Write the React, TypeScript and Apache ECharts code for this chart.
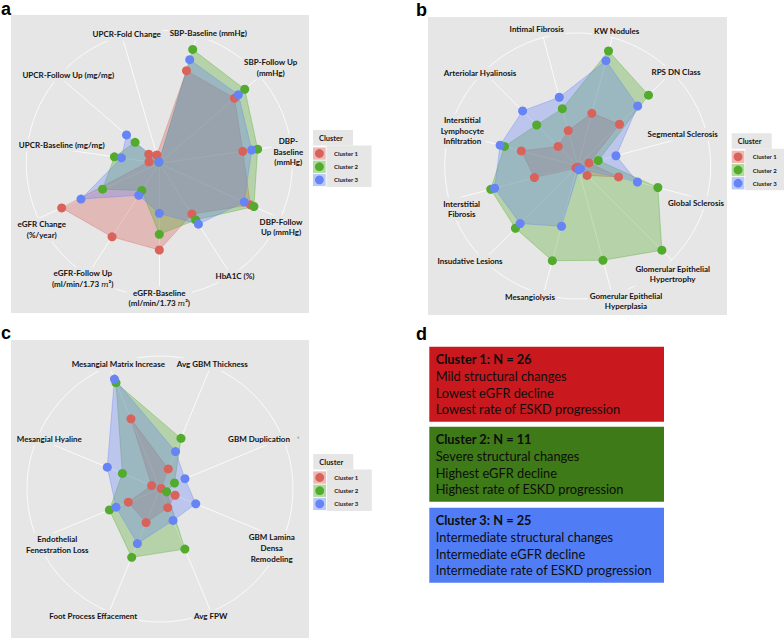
import React, { useEffect, useRef } from "react";
import * as echarts from "echarts";

// ---------------- DATA ----------------
const clusterNames = ["Cluster 1", "Cluster 2", "Cluster 3"];
const clusterColors = ["#D9625A", "#52AB2C", "#6684F5"];
const clusterTints = ["rgba(217,98,90,0.45)", "rgba(82,171,44,0.45)", "rgba(102,132,245,0.45)"];

// Panel a – clinical variables (radar order, counter-clockwise from SBP-Baseline)
const clinicalAxes = [
  "SBP-Baseline (mmHg)", "UPCR-Fold Change", "UPCR-Follow Up (mg/mg)", "UPCR-Baseline (mg/mg)",
  "eGFR Change (%/year)", "eGFR-Follow Up (ml/min/1.73 m2)", "eGFR-Baseline (ml/min/1.73 m2)",
  "HbA1C (%)", "DBP-Follow Up (mmHg)", "DBP-Baseline (mmHg)", "SBP-Follow Up (mmHg)",
];
const clinicalLabels = [
  "SBP-Baseline (mmHg)", "UPCR-Fold Change", "UPCR-Follow Up (mg/mg)", "UPCR-Baseline (mg/mg)",
  "eGFR Change\n(%/year)", "eGFR-Follow Up\n(ml/min/1.73 {it|m}²)", "eGFR-Baseline\n(ml/min/1.73 {it|m}²)",
  "HbA1C (%)", "DBP-Follow\nUp (mmHg)", "DBP-\nBaseline\n(mmHg)", "SBP-Follow Up\n(mmHg)",
];
const clinicalC1 = [0.726, 0.065, 0.105, 0.078, 0.807, 0.657, 0.652, 0.454, 0.752, 0.634, 0.748];
const clinicalC2 = [0.892, 0.01, 0.241, 0.341, 0.469, 0.243, 0.534, 0.506, 0.782, 0.747, 0.85];
const clinicalC3 = [0.812, 0.01, 0.326, 0.288, 0.647, 0.286, 0.376, 0.544, 0.702, 0.702, 0.787];

// Panel b – light microscopy (counter-clockwise from KW Nodules)
const lightAxes = [
  "KW Nodules", "Intimal Fibrosis", "Arteriolar Hyalinosis", "Interstitial Lymphocyte Infiltration",
  "Interstitial Fibrosis", "Insudative Lesions", "Mesangiolysis", "Gomerular Epithelial Hyperplasia",
  "Glomerular Epithelial Hypertrophy", "Global Sclerosis", "Segmental Sclerosis", "RPS DN Class",
];
const lightLabels = [
  "KW Nodules", "Intimal Fibrosis", "Arteriolar Hyalinosis", "Interstitial\nLymphocyte\nInfiltration",
  "Interstitial\nFibrosis", "Insudative Lesions", "Mesangiolysis", "Gomerular Epithelial\nHyperplasia",
  "Glomerular Epithelial\nHypertrophy", "Global Sclerosis", "Segmental Sclerosis", "RPS DN Class",
];
const lightC1 = [0.41, 0.276, 0.208, 0.439, 0.337, 0.02, 0.01, 0.01, 0.1, 0.318, 0.088, 0.444];
const lightC2 = [0.895, 0.446, 0.436, 0.57, 0.677, 0.662, 0.737, 0.734, 0.895, 0.624, 0.16, 0.753];
const lightC3 = [0.82, 0.535, 0.586, 0.604, 0.647, 0.612, 0.469, 0.03, 0.03, 0.465, 0.298, 0.638];

// Panel c – electron microscopy (counter-clockwise from Avg GBM Thickness)
const emAxes = [
  "Avg GBM Thickness", "Mesangial Matrix Increase", "Mesangial Hyaline", "Endothelial Fenestration Loss",
  "Foot Process Effacement", "Avg FPW", "GBM Lamina Densa Remodeling", "GBM Duplication",
];
const emLabels = [
  "Avg GBM Thickness", "Mesangial Matrix Increase", "Mesangial Hyaline", "Endothelial\nFenestration Loss",
  "Foot Process Effacement", "Avg FPW", "GBM Lamina\nDensa\nRemodeling", "GBM Duplication",
];
const emC1 = [0.163, 0.571, 0.068, 0.258, 0.273, 0.152, 0.123, 0.01];
const emC2 = [0.412, 0.865, 0.306, 0.412, 0.556, 0.489, 0.054, 0.118];
const emC3 = [0.305, 0.895, 0.429, 0.358, 0.444, 0.256, 0.291, 0.203];

// Panel d – summary
const summaryTitles = ["Cluster 1: N = 26", "Cluster 2: N = 11", "Cluster 3: N = 25"];
const summaryLines = [
  ["Mild structural changes", "Lowest eGFR decline", "Lowest rate of ESKD progression"],
  ["Severe structural changes", "Highest eGFR decline", "Highest rate of ESKD progression"],
  ["Intermediate structural changes", "Intermediate eGFR decline", "Intermediate rate of ESKD progression"],
];
const summaryColors = ["#C9191E", "#3E7A17", "#507DF5"];

// ---------------- LAYOUT ----------------
const BG = "#E6E6E6";
const RADIUS = 133;
const panels = [
  {
    axes: clinicalAxes, labels: clinicalLabels, values: [clinicalC1, clinicalC2, clinicalC3],
    center: [159.3, 163.3], start: 73.64, rect: [11, 15, 298, 298], legend: [313, 130],
    labelPos: [[208.3, 33.3], [126.7, 34.3], [68.3, 75], [61.7, 145], [41.7, 229.7], [82.7, 278.7],
      [159.3, 298], [235, 276], [281, 226.9], [288.3, 151.7], [270.7, 67.5]],
  },
  {
    axes: lightAxes, labels: lightLabels, values: [lightC1, lightC2, lightC3],
    center: [577.7, 166], start: 75, rect: [428, 17, 299, 298], legend: [731.7, 133.3],
    labelPos: [[616.7, 30.7], [536.7, 29.3], [480, 73.3], [462.3, 130.7], [461.7, 209], [470, 261],
      [530, 296.7], [626, 301], [672.7, 274], [696, 202.7], [682.7, 134.3], [676, 72.3]],
  },
  {
    axes: emAxes, labels: emLabels, values: [emC1, emC2, emC3],
    center: [160, 489], start: 67.5, rect: [11, 340, 298, 298], legend: [313.3, 454],
    labelPos: [[212.3, 364.3], [118.3, 364.3], [49.3, 439], [57.3, 544.7], [93.3, 616], [210.7, 616],
      [271.7, 548.1], [259, 439]],
  },
];
const panelLetters = [["a", 1, 8.5], ["b", 416, 9.5], ["c", 1, 332.5], ["d", 416, 333.5]];

const LABEL_FONT = "Lato, 'Open Sans', sans-serif";

function buildOption() {
  const radar = panels.map((p) => ({
    center: p.center,
    radius: RADIUS,
    startAngle: p.start,
    splitNumber: 1,
    shape: "circle",
    z: 1,
    indicator: p.axes.map((n) => ({ name: n, min: 0, max: 1 })),
    axisName: { show: false },
    axisLine: { show: true, lineStyle: { color: "#ffffff", width: 0.8 } },
    splitLine: { show: true, lineStyle: { color: "#ffffff", width: 0.8 } },
    splitArea: { show: false },
    axisTick: { show: false },
    axisLabel: { show: false },
  }));

  const series: any[] = [];
  panels.forEach((p, ri) => {
    series.push({
      type: "radar",
      radarIndex: ri,
      symbol: "none",
      z: 2,
      data: p.values.map((v, ci) => ({
        name: clusterNames[ci],
        value: v,
        lineStyle: { color: clusterColors[ci], width: 0.8, opacity: 0.45 },
        areaStyle: { color: clusterColors[ci], opacity: 0.33 },
      })),
    });
  });
  panels.forEach((p, ri) => {
    series.push({
      type: "radar",
      radarIndex: ri,
      symbol: "circle",
      symbolSize: 9,
      z: 3,
      data: p.values.map((v, ci) => ({
        name: clusterNames[ci],
        value: v,
        itemStyle: { color: clusterColors[ci] },
        lineStyle: { width: 0, opacity: 0 },
      })),
    });
  });

  const g: any[] = [];
  panels.forEach((p) => {
    const [x, y, w, h] = p.rect;
    g.push({ type: "rect", z: -5, shape: { x, y, width: w, height: h }, style: { fill: BG } });
    p.labels.forEach((t, i) => {
      const [lx, ly] = p.labelPos[i];
      g.push({
        type: "text",
        z: 10,
        x: lx,
        y: ly,
        style: {
          text: t,
          align: "center",
          verticalAlign: "middle",
          fontFamily: LABEL_FONT,
          fontWeight: "bold",
          fontSize: 8,
          lineHeight: 10.7,
          fill: "#141414",
          backgroundColor: BG,
          padding: [1, 2],
          rich: { it: { fontStyle: "italic", fontFamily: "'DejaVu Serif', serif", fontSize: 8, fill: "#141414" } },
        },
      });
    });
    // legend
    const [lx, ly] = p.legend;
    g.push({ type: "rect", z: 10, shape: { x: lx, y: ly, width: 40, height: 15.5 }, style: { fill: BG } });
    g.push({
      type: "text", z: 11, x: lx + 6, y: ly + 8.3,
      style: { text: "Cluster", fontFamily: LABEL_FONT, fontWeight: "bold", fontSize: 7.5, fill: "#1a1a1a", verticalAlign: "middle" },
    });
    g.push({ type: "rect", z: 10, shape: { x: lx + 13.5, y: ly + 15.5, width: 45, height: 41.5 }, style: { fill: BG } });
    clusterNames.forEach((cn, ci) => {
      const cy = ly + 23.5 + ci * 13.2;
      g.push({ type: "rect", z: 11, shape: { x: lx, y: cy - 6.1, width: 12.7, height: 12.3 }, style: { fill: clusterTints[ci] } });
      g.push({ type: "circle", z: 12, shape: { cx: lx + 6.4, cy, r: 4.4 }, style: { fill: clusterColors[ci] } });
      g.push({
        type: "text", z: 12, x: lx + 21, y: cy,
        style: { text: cn, fontFamily: LABEL_FONT, fontWeight: "bold", fontSize: 6, fill: "#1a1a1a", verticalAlign: "middle" },
      });
    });
  });
  // small stray marker next to "GBM Duplication"
  g.push({ type: "circle", z: 10, shape: { cx: 298.3, cy: 437.7, r: 1 }, style: { fill: "#aaaaaa" } });

  // panel letters
  panelLetters.forEach(([t, x, y]) => {
    g.push({
      type: "text", z: 10, x, y,
      style: { text: t as string, fontFamily: "'Liberation Sans', Arial, sans-serif", fontWeight: "bold", fontSize: 18, fill: "#000", verticalAlign: "middle" },
    });
  });

  // panel d boxes
  const boxTops = [346.7, 426.7, 507.7];
  summaryTitles.forEach((title, i) => {
    const top = boxTops[i];
    g.push({ type: "rect", z: 5, shape: { x: 429.3, y: top, width: 234.7, height: 75 }, style: { fill: summaryColors[i] } });
    g.push({
      type: "text", z: 6, x: 435.7, y: top + 12.5,
      style: { text: title, fontFamily: LABEL_FONT, fontWeight: "bold", fontSize: 12.8, fill: "#0d0d0d", verticalAlign: "middle" },
    });
    summaryLines[i].forEach((ln, j) => {
      g.push({
        type: "text", z: 6, x: 435.7, y: top + 12.5 + (j + 1) * 16.7,
        style: { text: ln, fontFamily: LABEL_FONT, fontSize: 12.8, fill: "#0d0d0d", verticalAlign: "middle" },
      });
    });
  });

  return { animation: false, radar, series, graphic: { elements: g } };
}

export default function App() {
  const ref = useRef<HTMLDivElement>(null);
  useEffect(() => {
    if (!ref.current) return;
    const chart = echarts.init(ref.current, undefined, { renderer: "svg" });
    chart.setOption(buildOption() as any);
    return () => chart.dispose();
  }, []);
  return (
    <div
      ref={ref}
      style={{ position: "fixed", left: 0, top: 0, width: 784, height: 640, background: "#ffffff" }}
    />
  );
}
